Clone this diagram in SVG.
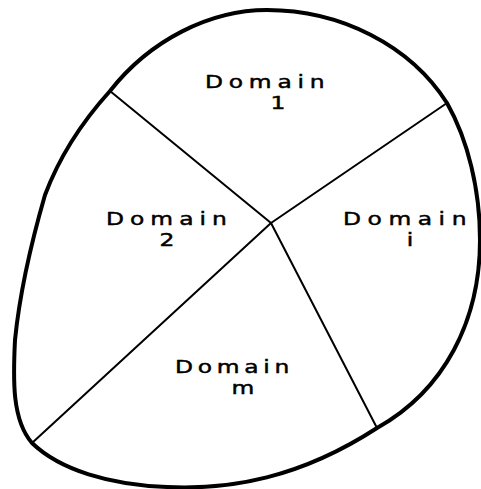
<svg xmlns="http://www.w3.org/2000/svg" width="481" height="489" viewBox="0 0 481 489">
<style>
.outline{fill:none;stroke:#000;stroke-width:4;stroke-linejoin:round}
.div{fill:none;stroke:#000;stroke-width:2;stroke-linecap:round}
.lbl{font-family:"DejaVu Sans","Liberation Sans",sans-serif;font-size:18px;fill:#000;stroke:#000;stroke-width:0.45}
.c{text-anchor:middle}
</style>
<rect width="481" height="489" fill="#fff"/>
<g id="boundary">
<path class="outline" d="M267,10 C340,10 410,45 447,103 C468,140 480,190 480,240 C480,320 445,390 377,428 C300,478 230,490 167,487 C110,485 60,470 32,443 C12,420 13,380 15,340 C20,290 32,240 45,195 C60,155 82,122 110,91 C150,40 210,10 267,10 Z"/>
</g>
<g id="connectors">
<line class="div" x1="110" y1="91" x2="271" y2="223"/>
<line class="div" x1="447" y1="103" x2="271" y2="223"/>
<line class="div" x1="271" y1="223" x2="32" y2="443"/>
<line class="div" x1="271" y1="223" x2="377" y2="428"/>
</g>
<g id="domain1">
<text class="lbl" transform="translate(205,88) scale(1.3,1)" textLength="92" lengthAdjust="spacing">Domain</text>
<text class="lbl c" transform="translate(278,109) scale(1.3,1)">1</text>
</g>
<g id="domain2">
<text class="lbl" transform="translate(106,225) scale(1.3,1)" textLength="93" lengthAdjust="spacing">Domain</text>
<text class="lbl c" transform="translate(167,246) scale(1.3,1)">2</text>
</g>
<g id="domaini">
<text class="lbl" transform="translate(343,225) scale(1.3,1)" textLength="95" lengthAdjust="spacing">Domain</text>
<text class="lbl c" transform="translate(410,246) scale(1.3,1)">i</text>
</g>
<g id="domainm">
<text class="lbl" transform="translate(175,373) scale(1.3,1)" textLength="88" lengthAdjust="spacing">Domain</text>
<text class="lbl c" transform="translate(243,394) scale(1.3,1)">m</text>
</g>
</svg>
